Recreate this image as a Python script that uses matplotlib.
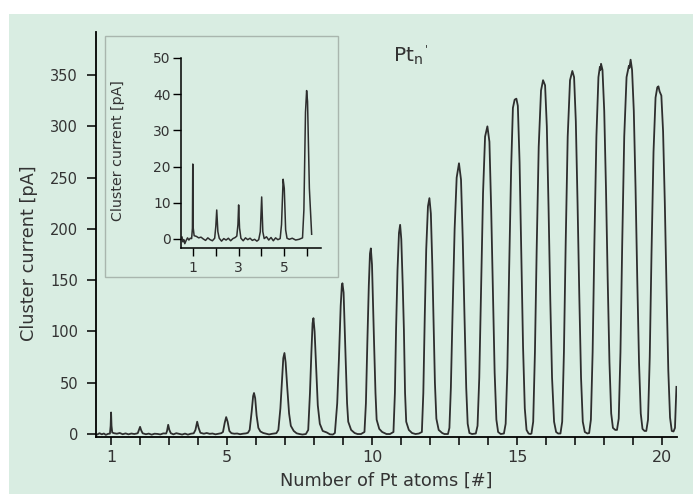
import matplotlib.pyplot as plt
from matplotlib.patches import Rectangle

# main mass spectrum trace (one line per peak region)
main_x = [
    0.52, 0.6, 0.68, 0.75, 0.82, 0.9, 0.96, 0.985, 1.0, 1.015, 1.04, 1.1, 1.2, 1.3, 1.4, 1.5, 1.6, 1.7, 1.8, 1.87,
    1.92, 1.96, 2.0, 2.04, 2.09, 2.2, 2.3, 2.4, 2.5, 2.6, 2.7, 2.8, 2.9,
    2.93, 2.97, 3.01, 3.06, 3.15, 3.25, 3.35, 3.45, 3.55, 3.65, 3.75, 3.85,
    3.91, 3.97, 4.02, 4.08, 4.2, 4.3, 4.4, 4.5, 4.6, 4.7, 4.8,
    4.86, 4.92, 4.97, 5.02, 5.08, 5.15, 5.25, 5.35, 5.45, 5.55, 5.65, 5.72,
    5.78, 5.85, 5.9, 5.93, 5.97, 6.02, 6.08, 6.15, 6.25, 6.35, 6.45, 6.55, 6.7,
    6.77, 6.84, 6.89, 6.94, 6.98, 7.02, 7.08, 7.14, 7.2, 7.3, 7.4, 7.5, 7.6, 7.72,
    7.8, 7.86, 7.91, 7.95, 7.98, 8.02, 8.08, 8.13, 8.2, 8.3, 8.44, 8.55, 8.65,
    8.72, 8.8, 8.86, 8.92, 8.96, 8.98, 9.02, 9.06, 9.09, 9.14, 9.18, 9.28, 9.4, 9.5, 9.62,
    9.74, 9.79, 9.84, 9.89, 9.93, 9.96, 10.0, 10.04, 10.07, 10.12, 10.16, 10.25, 10.35, 10.5, 10.62,
    10.74, 10.79, 10.83, 10.88, 10.93, 10.97, 11.01, 11.06, 11.1, 11.14, 11.18, 11.27, 11.38, 11.5, 11.62,
    11.72, 11.77, 11.82, 11.87, 11.93, 11.98, 12.03, 12.08, 12.12, 12.17, 12.22, 12.3, 12.42, 12.5, 12.62,
    12.67, 12.72, 12.78, 12.85, 12.92, 13.0, 13.07, 13.13, 13.19, 13.25, 13.3, 13.36, 13.45,
    13.58, 13.64, 13.7, 13.76, 13.83, 13.9, 13.98, 14.05, 14.11, 14.17, 14.23, 14.29, 14.35, 14.44,
    14.55, 14.61, 14.67, 14.73, 14.8, 14.86, 14.92, 14.98, 15.03, 15.09, 15.15, 15.21, 15.27, 15.33, 15.4, 15.46,
    15.5, 15.56, 15.62, 15.68, 15.75, 15.83, 15.9, 15.97, 16.03, 16.09, 16.15, 16.21, 16.28, 16.35, 16.42,
    16.5, 16.56, 16.62, 16.68, 16.75, 16.83, 16.91, 16.97, 17.03, 17.09, 17.15, 17.21, 17.27, 17.34, 17.43,
    17.49, 17.55, 17.61, 17.67, 17.74, 17.81, 17.86, 17.88, 17.9, 17.95, 18.01, 18.07, 18.13, 18.19, 18.25, 18.31, 18.39,
    18.45, 18.51, 18.57, 18.63, 18.7, 18.78, 18.86, 18.88, 18.92, 18.97, 19.03, 19.09, 19.15, 19.21, 19.27, 19.33, 19.4,
    19.46, 19.52, 19.58, 19.64, 19.71, 19.78, 19.84, 19.88, 19.92, 19.98, 20.04, 20.1, 20.16, 20.22, 20.28, 20.34, 20.4, 20.45, 20.5,
]
main_y = [
    -0.5, 0.8, -0.3, 0.5, -0.8, 0.2, 0.4, 8, 21, 8, 1.5, 0.8, 0.3, 1.0, -0.2, 0.6, -0.3, 0.5, 0.0, 0.4,
    0.8, 4, 7, 3.5, 0.7, -0.2, 0.4, -0.6, 0.3, 0.1, -0.4, 0.6, 0.5,
    3, 9, 4, 0.8, -0.3, 0.8, 0.2, -0.5, 0.4, -0.6, 0.3, 0.7,
    4, 12, 6, 1.2, 0.3, 1.0, 0.2, 0.5, -0.3, 0.2, 0.8,
    2, 11, 16.5, 12, 3, 0.8, 0.3, 0.5, -0.2, 0.3, 0.6, 1.2,
    4, 22, 37, 40, 35, 18, 6, 2.5, 1, 0.3, -0.4, 0.2, 0.8,
    4, 25, 50, 74, 79, 70, 44, 20, 8, 3, 0.7, 0, -0.5, 0,
    4, 40, 80, 108, 113, 100, 60, 28, 10, 3, 1.5, -0.3, -0.5,
    1, 30, 74, 125, 145, 147, 138, 100, 74, 30, 12, 4, 1, 0, 0,
    2, 30, 90, 145, 176, 181, 165, 120, 90, 40, 14, 5, 2, 0, 0,
    2, 40, 102, 160, 196, 204, 190, 145, 102, 40, 12, 4, 1, 0, 0.5,
    2, 40, 115, 180, 222, 230, 215, 165, 115, 50, 15, 4, 1, 0, 0,
    6, 45, 120, 200, 250, 264, 248, 190, 115, 45, 10, 1, 0,
    0.5, 8, 55, 140, 235, 290, 300, 285, 220, 140, 60, 14, 2, 0,
    0.5, 10, 65, 160, 260, 318, 326, 327, 320, 265, 175, 85, 25, 4, 0.5, 0,
    0.5, 12, 80, 180, 280, 335, 345, 340, 300, 220, 130, 55, 12, 2, 0.5,
    0.5, 12, 80, 185, 290, 345, 354, 348, 305, 225, 135, 55, 12, 2, 0.5,
    1, 14, 80, 185, 290, 348, 358, 355, 361, 355, 315, 240, 150, 70, 20, 6, 4,
    4, 15, 80, 185, 290, 348, 359, 357, 365, 355, 315, 240, 150, 70, 20, 5, 3,
    3, 14, 75, 175, 275, 328, 338, 339, 334, 330, 295, 225, 140, 62, 16, 3, 2.5, 6, 46,
]

# inset: zoom on the small clusters
inset_x = [
    0.52, 0.56, 0.6, 0.64, 0.7, 0.76, 0.82, 0.88, 0.94, 0.975, 0.99, 1.01, 1.05, 1.15, 1.25, 1.35, 1.45, 1.55, 1.65, 1.75, 1.85, 1.95,
    2.0, 2.04, 2.09, 2.15, 2.25, 2.35, 2.45, 2.55, 2.65, 2.75, 2.85, 2.92,
    2.97, 3.0, 3.04, 3.1, 3.2, 3.3, 3.4, 3.5, 3.6, 3.7, 3.8, 3.88,
    3.95, 4.01, 4.06, 4.12, 4.22, 4.32, 4.42, 4.52, 4.62, 4.72, 4.82,
    4.88, 4.95, 5.0, 5.06, 5.12, 5.22, 5.35, 5.5, 5.65, 5.8,
    5.86, 5.93, 5.98, 6.02, 6.1, 6.2,
]
inset_y = [
    0.5, -0.8, -0.2, -1.3, -0.4, 0.3, -0.3, 0.2, 0.1, 3, 20.7, 3, 0.9, 0.7, 0.3, 0.5, 0.0, -0.4, 0.3, -0.2, -0.5, 0.2,
    3.5, 8, 2, 0.2, -0.6, 0.1, -0.3, 0.2, -0.5, 0.1, 0.4, 0.8,
    4, 9.4, 3, 0.2, -0.5, 0.3, -0.2, 0.2, -0.4, -0.1, -0.6, -0.2,
    2, 11.6, 2, 0.1, 0.6, -0.3, 0.4, -0.5, 0.3, -0.2, 0.1,
    4, 16.5, 14, 2.5, 0.2, -0.1, 0.2, -0.3, -0.1, 0.3,
    8, 35, 41, 38, 14, 1.3,
]

main_xticks = [1, 2, 3, 4, 5, 6, 7, 8, 9, 10, 11, 12, 13, 14, 15, 16, 17, 18, 19, 20]
main_xlabels = ['1', '', '', '', '5', '', '', '', '', '10', '', '', '', '', '15', '', '', '', '', '20']
main_yticks = [0, 50, 100, 150, 200, 250, 300, 350]
inset_xticks = [1, 2, 3, 4, 5, 6]
inset_xlabels = ['1', '', '3', '', '5', '']
inset_yticks = [0, 10, 20, 30, 40, 50]

BG = '#d9ede2'
LINE = '#2e2e2e'
TXT = '#333333'
W, H = 693, 494

fig = plt.figure(figsize=(6.93, 4.94), dpi=100, facecolor='white')
fig.add_artist(Rectangle((9 / W, 0), 1, 1 - 14 / H, transform=fig.transFigure,
                         facecolor=BG, edgecolor='none', zorder=-10))


def style_axes(ax, lw):
    ax.set_facecolor('none')
    for side in ['top', 'right']:
        ax.spines[side].set_visible(False)
    for side in ['left', 'bottom']:
        ax.spines[side].set_linewidth(lw)
        ax.spines[side].set_color('black')


# main panel
ax = fig.add_axes([96 / W, 1 - 437 / H, 581 / W, 405 / H])
style_axes(ax, 1.3)
ax.plot(main_x, main_y, color=LINE, lw=1.3)
ax.set_xlim(0.48, 20.52)
ax.set_ylim(-2.9, 392)
ax.set_xticks(main_xticks)
ax.set_xticklabels(main_xlabels)
ax.set_yticks(main_yticks)
ax.tick_params(axis='both', direction='out', width=1.1, color='black', labelcolor=TXT)
ax.tick_params(axis='x', length=6, pad=3.5, labelsize=11.5)
ax.tick_params(axis='y', length=6.5, pad=6.5, labelsize=10.5)
ax.set_xlabel('Number of Pt atoms [#]', fontsize=12.8, color=TXT, labelpad=5)
ax.set_ylabel('Cluster current [pA]', fontsize=12.8, color=TXT)
ax.yaxis.label.set_verticalalignment('center')
ax.yaxis.set_label_coords(-0.1153, 0.454)

# species label: Pt with subscript n and a small raised tick
fig.text(393 / W, 1 - 62 / H, r"Pt$_{\mathregular{n}}$",
         fontsize=14.5, color=TXT, ha='left', va='baseline')
fig.text(425 / W, 1 - 52 / H, "'", fontsize=8, color=TXT, ha='left', va='baseline')

# inset frame and panel
fig.add_artist(Rectangle((105 / W, 1 - 277 / H), 233 / W, 241 / H, transform=fig.transFigure,
                         fill=False, edgecolor='#a9b6ae', lw=1.0))
ins = fig.add_axes([181 / W, 1 - 248 / H, 140 / W, 190 / H])
style_axes(ins, 1.1)
ins.plot(inset_x, inset_y, color=LINE, lw=1.1)
ins.set_xlim(0.474, 6.61)
ins.set_ylim(-2.5, 50)
ins.set_xticks(inset_xticks)
ins.set_xticklabels(inset_xlabels)
ins.set_yticks(inset_yticks)
ins.tick_params(axis='both', direction='out', width=1.0, color='black', labelcolor=TXT, labelsize=10)
ins.tick_params(axis='x', length=6, pad=3.5)
ins.tick_params(axis='y', length=5.5, pad=2)
ins.set_ylabel('Cluster current [pA]', fontsize=10.2, color=TXT)
ins.yaxis.label.set_verticalalignment('center')
ins.yaxis.set_label_coords(-0.45, 0.51)

fig.savefig('out.png', dpi=100, facecolor='white')
